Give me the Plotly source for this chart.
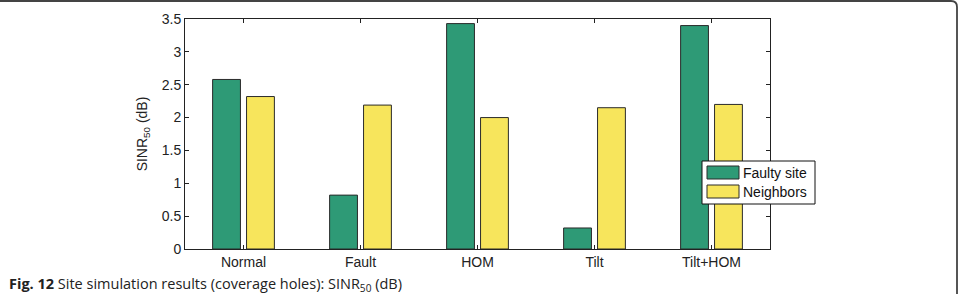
import plotly.graph_objects as go

categories = ["Normal", "Fault", "HOM", "Tilt", "Tilt+HOM"]
faulty_site = [2.58, 0.82, 3.43, 0.32, 3.40]
neighbors = [2.32, 2.19, 2.00, 2.15, 2.20]
series_names = ["Faulty site", "Neighbors"]
series_colors = ["#2E9A76", "#F7E55C"]
y_ticks = [0, 0.5, 1, 1.5, 2, 2.5, 3, 3.5]
y_ticklabels = ["0", "0.5", "1", "1.5", "2", "2.5", "3", "3.5"]

W, H = 960, 294
L, R, T, B = 185, 190, 19, 45
PW, PH = W - L - R, H - T - B


def px(x):
    return (x - L) / PW


def py(y):
    return (H - B - y) / PH


FONT = "Liberation Sans, Arial"

fig = go.Figure()
for name, vals, col in zip(series_names, [faulty_site, neighbors], series_colors):
    fig.add_trace(go.Bar(x=categories, y=vals, name=name, showlegend=False,
                         marker=dict(color=col, line=dict(color="#2a2a2a", width=1))))

axis_common = dict(showline=True, linecolor="#222", linewidth=1, mirror="allticks",
                   ticks="inside", ticklen=4, tickcolor="#222", showgrid=False, zeroline=False,
                   tickfont=dict(family=FONT, size=14, color="#222"))

fig.update_layout(
    width=W, height=H,
    margin=dict(l=L, r=R, t=T, b=B, pad=0),
    paper_bgcolor="white", plot_bgcolor="white",
    barmode="group", bargap=0.42, bargroupgap=0.18,
    xaxis=dict(range=[-0.5, 4.5], **axis_common),
    yaxis=dict(range=[0, 3.5], tickvals=y_ticks, ticktext=y_ticklabels,
               title=dict(text="SINR<sub>50</sub> (dB)", standoff=10,
                          font=dict(family=FONT, size=14, color="#222")),
               **axis_common),
    showlegend=False,
)

# custom legend box
fig.add_shape(type="rect", xref="paper", yref="paper",
              x0=px(702), x1=px(815), y0=py(204), y1=py(161),
              fillcolor="white", line=dict(color="#111", width=1))
for i, (name, col) in enumerate(zip(series_names, series_colors)):
    ytop = 166 + i * 19
    fig.add_shape(type="rect", xref="paper", yref="paper",
                  x0=px(707), x1=px(739), y0=py(ytop + 13), y1=py(ytop),
                  fillcolor=col, line=dict(color="#2a2a2a", width=1))
    fig.add_annotation(xref="paper", yref="paper", x=px(741), y=py(ytop + 6.5),
                       xanchor="left", yanchor="middle", showarrow=False, text=name,
                       font=dict(family=FONT, size=14, color="#111"))

# figure frame (top line and right edge with rounded corner)
x0 = px(-5)
x1 = px(957)
r_px = 6
rx = r_px / PW
ry = r_px / PH
y_top = py(1)
y_bot = py(300)
fig.add_shape(type="path", xref="paper", yref="paper",
              path=f"M {x0},{y_top} L {x1-rx},{y_top} Q {x1},{y_top} {x1},{y_top-ry} L {x1},{y_bot}",
              line=dict(color="#444", width=1.8))

fig.add_annotation(xref="paper", yref="paper",
                   x=px(7), y=py(284),
                   xanchor="left", yanchor="middle", showarrow=False,
                   text="<b>Fig. 12</b> Site simulation results (coverage holes): SINR<sub>50</sub> (dB)",
                   font=dict(family="Open Sans", size=14.5, color="#222"))

fig.write_html("out.html")
